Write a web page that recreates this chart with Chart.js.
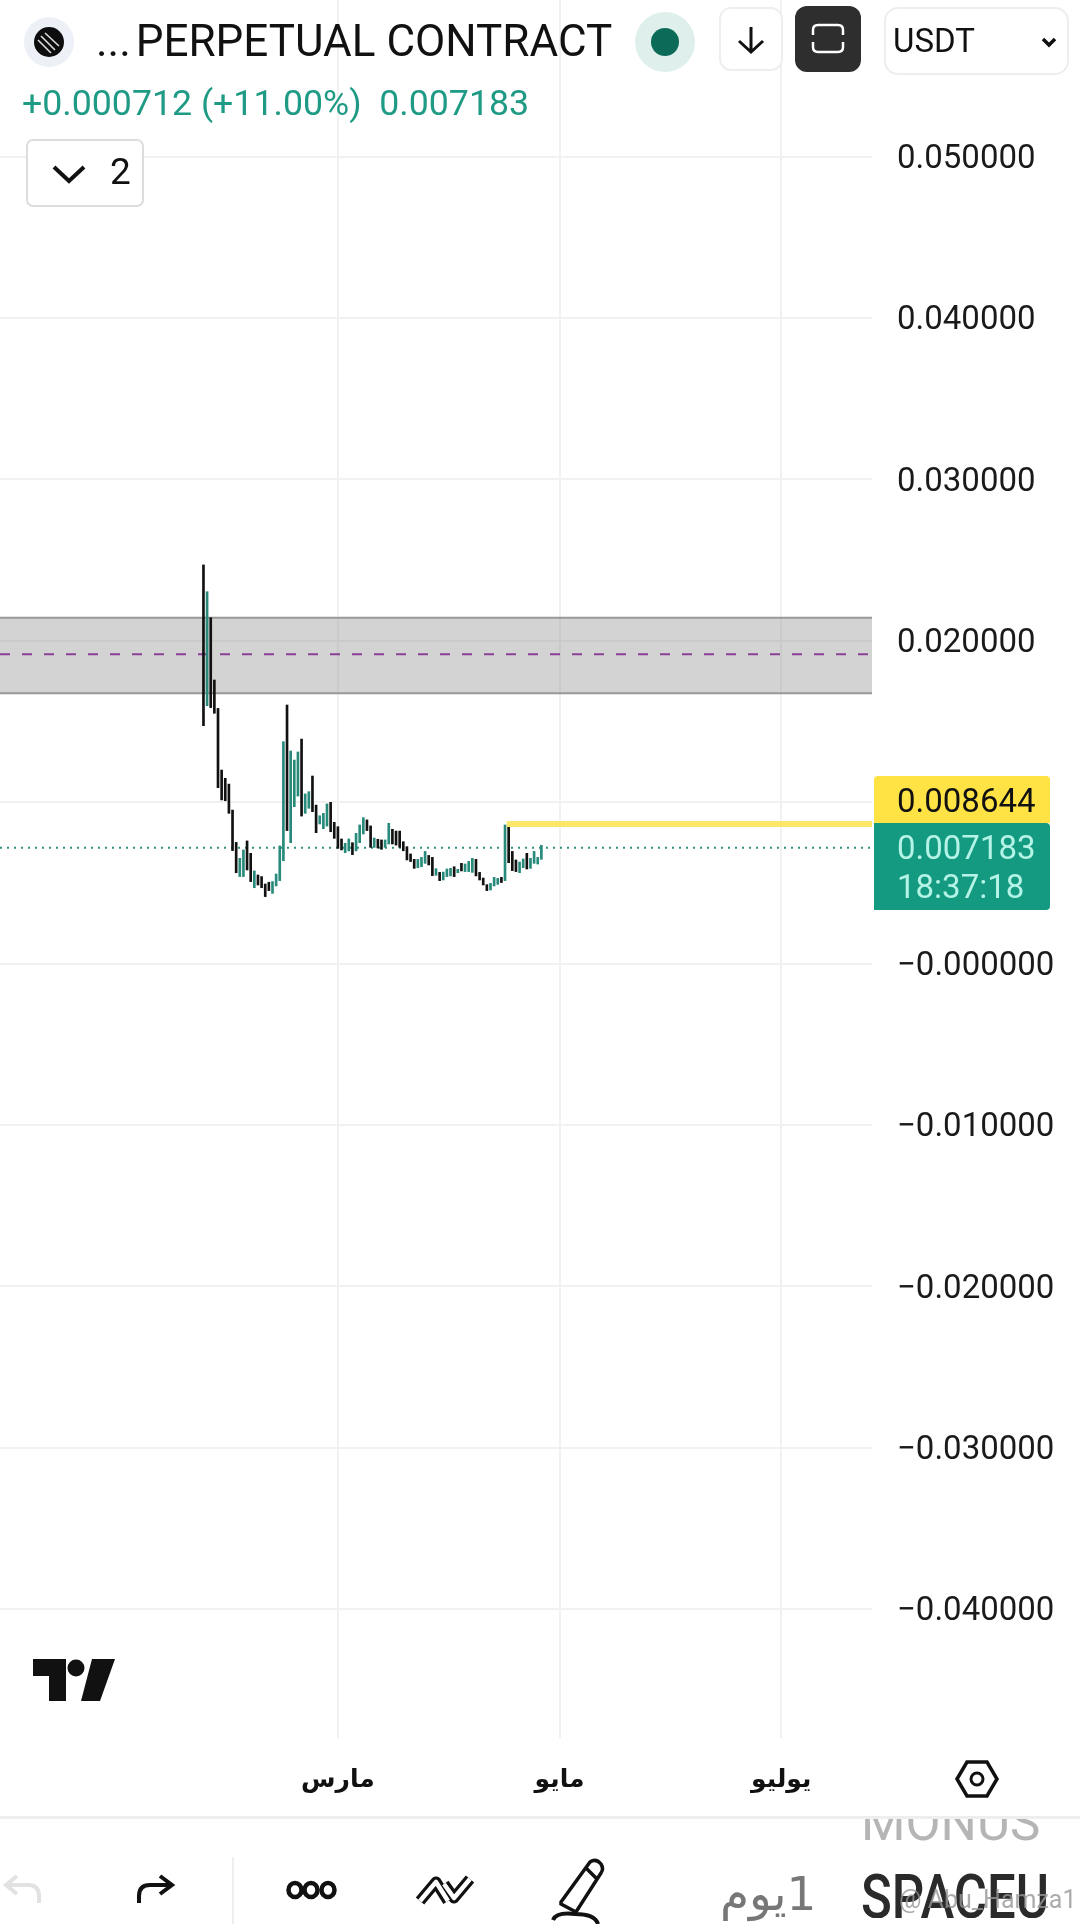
<!DOCTYPE html>
<html>
<head>
<meta charset="utf-8">
<script src="https://cdn.jsdelivr.net/npm/chart.js@4"></script>
<style>
    html, body { margin: 0; padding: 0; background: #fff; width: 1080px; height: 1924px; overflow: hidden; font-family: Roboto, sans-serif; }
    #chartBox { position: absolute; left: 0; top: 0; width: 1080px; height: 1818px; }
    .txt { position: absolute; white-space: pre; line-height: 1; }
    .box { position: absolute; box-sizing: border-box; }
    svg { position: absolute; left: 0; top: 0; }
</style>
</head>
<body>
<div id="chartBox"><canvas id="myChart" width="1080" height="1818"></canvas></div>

<!-- header boxes -->
<div class="box" style="left:26px;top:139px;width:118px;height:68px;border:2px solid #ddd;border-radius:7px;background:#fff"></div>
<div class="box" style="left:719px;top:7px;width:64px;height:64px;border:2px solid #eee;border-radius:12px;background:#fff"></div>
<div class="box" style="left:795px;top:6px;width:66px;height:66px;background:#2e2e2e;border-radius:12px"></div>
<div class="box" style="left:884px;top:7px;width:185px;height:68px;border:2px solid #eee;border-radius:14px;background:#fff"></div>

<svg width="1080" height="1924" viewBox="0 0 1080 1924">
    <!-- logo -->
    <circle cx="49" cy="42" r="25" fill="#eef0f8"/>
    <circle cx="49" cy="42" r="15" fill="#0d0d0d"/>
    <path d="M41 36 L55 50 M45 33 L59 46 M38 40 L51 53" stroke="#ddd" stroke-width="1.6" fill="none"/>
    <!-- status dot -->
    <circle cx="665" cy="42" r="30" fill="#dff0ec"/>
    <circle cx="665" cy="42" r="14" fill="#0b6b58"/>
    <!-- header icons -->
    <path d="M54 167 L69 181 L84 167" fill="none" stroke="#111" stroke-width="4"/>
    <path d="M751 27 V52 M739 41 L751 52 L763 41" fill="none" stroke="#111" stroke-width="3"/>
    <path d="M813 35 V30 Q813 25 818 25 H838 Q843 25 843 30 V35 M813 42 V47 Q813 52 818 52 H838 Q843 52 843 47 V42" fill="none" stroke="#fff" stroke-width="2.5"/>
    <path d="M1043 39 L1049 45 L1055 39" fill="none" stroke="#111" stroke-width="3.5"/>
    <!-- tv logo -->
    <path d="M33 1659 h33 v42 h-17 v-25 h-16 z M92 1659 h23 l-15 42 h-19 z" fill="#111"/>
    <circle cx="76" cy="1668" r="8.5" fill="#111"/>
    <!-- settings -->
    <path d="M957 1779 L967 1762 H987 L997 1779 L987 1796 H967 Z" fill="none" stroke="#111" stroke-width="3.5"/>
    <circle cx="977" cy="1779" r="6" fill="none" stroke="#111" stroke-width="3"/>
    <!-- toolbar -->
    <rect x="232" y="1857" width="2" height="67" fill="#eee"/>
    <path d="M39 1903 v-7 q0 -11 -11 -11 h-20 m9 -9 l-11 9 l11 9" fill="none" stroke="#e2e2e2" stroke-width="4"/>
    <path d="M139 1903 v-7 q0 -11 11 -11 h20 m-10 -9 l12 9 l-12 9" fill="none" stroke="#111" stroke-width="4"/>
    <ellipse cx="295" cy="1890" rx="6.5" ry="7" fill="none" stroke="#111" stroke-width="4.5"/>
    <ellipse cx="311" cy="1890" rx="6.5" ry="7" fill="none" stroke="#111" stroke-width="4.5"/>
    <ellipse cx="328" cy="1890" rx="6.5" ry="7" fill="none" stroke="#111" stroke-width="4.5"/>
    <path d="M420 1901 L436 1882 L448 1901 M444 1884 L454 1898 L470 1879" fill="none" stroke="#111" stroke-width="11" stroke-linejoin="round"/>
    <path d="M420 1901 L436 1882 L448 1901 M444 1884 L454 1898 L470 1879" fill="none" stroke="#fff" stroke-width="4.5" stroke-linejoin="round"/>
    <path d="M561 1902 L590 1862 Q596 1858 601 1864 Q604 1869 601 1873 L576 1912 L561 1904 Z M586 1868 L598 1880" fill="none" stroke="#111" stroke-width="3.5"/>
    <path d="M553 1920 Q556 1912 575 1914 Q595 1914 598 1924" fill="none" stroke="#111" stroke-width="4"/>
</svg>

<!-- header text -->
<div class="txt" style="left:96px;top:19px;font-size:44px;color:#111">...<span style="margin-left:-6px"> PERPETUAL CONTRACT</span></div>
<div class="txt" id="changeTxt" style="left:22px;top:86px;font-size:35.7px;color:#1f9b85"></div>
<div class="txt" style="left:110px;top:153px;font-size:37px;color:#111">2</div>
<div class="txt" style="left:893px;top:24px;font-size:33px;color:#111">USDT</div>

<!-- price labels -->
<div class="box" style="left:874px;top:776px;width:176px;height:47px;background:#ffe344;border-radius:4px 4px 0 0"></div>
<div class="box" style="left:874px;top:823px;width:176px;height:87px;background:#139a80;border-radius:0 4px 4px 0"></div>
<div class="txt" id="alertPrice" style="left:897px;top:784px;font-size:33px;color:#111"></div>
<div class="txt" id="lastPrice" style="left:897px;top:831px;font-size:33px;color:#b4f3e6"></div>
<div class="txt" id="countdown" style="left:897px;top:870px;font-size:33px;color:#b4f3e6"></div>

<!-- bottom -->
<div class="box" style="left:0;top:1816px;width:1080px;height:3px;background:#eee"></div>
<div class="txt" dir="rtl" style="left:720px;top:1870px;font-size:47px;color:#777;font-family:'DejaVu Sans'">1يوم</div>
<div class="box" style="left:850px;top:1819px;width:230px;height:30px;overflow:hidden">
    <div class="txt" style="left:11px;top:-22px;font-size:51px;color:#b5b5b5">MONUS</div>
</div>
<div class="box" style="left:850px;top:1860px;width:230px;height:58px;overflow:hidden">
    <div class="txt" style="left:11px;top:6px;font-size:62px;color:#2a2a2a;font-weight:500;transform:scaleX(.82);transform-origin:left top">SPACEU</div>
</div>
<div class="txt" style="left:899px;top:1887px;font-size:25px;color:rgba(150,150,150,.8)">@ Abu_Hamza1</div>

<script>
const lastPriceValue = 0.007183;
const alertValue = 0.008644;
const bandTop = 0.02143;
const bandBottom = 0.01675;
const dashedValue = 0.01916;

const yTickValues = [0.05, 0.04, 0.03, 0.02, 0, -0.01, -0.02, -0.03, -0.04];
const yTickLabels = ['0.050000', '0.040000', '0.030000', '0.020000', '\u22120.000000', '\u22120.010000', '\u22120.020000', '\u22120.030000', '\u22120.040000'];
const yGridValues = [0.05, 0.04, 0.03, 0.02, 0.01, 0, -0.01, -0.02, -0.03, -0.04];

// dias contados a partir do inicio do grafico
const monthDays = [93, 154, 215];
const monthLabels = ['مارس', 'مايو', 'يوليو'];
const firstBarDay = 56;
const lastDay = 240;
const alertStartDay = 139.5;

const highs = [
    .02470, .02304, .02143, .01757, .01581, .01199, .01148, .01112, .00951, .00751,
    .00652, .00704, .00760, .00683, .00574, .00549, .00539, .00493, .00504, .00508,
    .00555, .00729, .01375, .01602, .01317, .01261, .01311, .01391, .01051, .01065,
    .01162, .00982, .00916, .00931, .00989, .00999, .00875, .00848, .00772, .00745,
    .00772, .00749, .00807, .00859, .00904, .00890, .00853, .00778, .00770, .00766,
    .00766, .00869, .00832, .00821, .00821, .00755, .00724, .00679, .00646, .00646,
    .00658, .00695, .00670, .00658, .00588, .00565, .00567, .00586, .00590, .00600,
    .00584, .00621, .00617, .00633, .00652, .00646, .00565, .00530, .00489, .00497,
    .00534, .00528, .00534, .00859, .00865, .00695, .00642, .00629, .00648, .00683,
    .00652, .00695, .00658, .00733
];
const lows = [
    .01474, .01598, .01586, .01551, .01090, .01014, .01009, .00931, .00700, .00563,
    .00539, .00539, .00580, .00508, .00470, .00487, .00470, .00415, .00452, .00435,
    .00481, .00514, .00637, .00824, .00749, .00972, .01038, .00914, .00931, .00962,
    .00941, .00811, .00865, .00836, .00852, .00817, .00776, .00714, .00704, .00687,
    .00698, .00675, .00698, .00749, .00803, .00824, .00720, .00720, .00716, .00708,
    .00720, .00741, .00741, .00734, .00720, .00699, .00642, .00632, .00590, .00594,
    .00600, .00621, .00611, .00545, .00547, .00514, .00518, .00539, .00543, .00539,
    .00563, .00574, .00570, .00570, .00565, .00543, .00518, .00487, .00452, .00456,
    .00481, .00491, .00502, .00514, .00625, .00576, .00570, .00563, .00594, .00586,
    .00590, .00621, .00617, .00646
];
// 1 = alta (verde), 0 = baixa (preto)
const ups = [
    0, 1, 0, 0, 0, 0, 0, 0, 0, 0,
    1, 1, 0, 0, 1, 0, 0, 0, 0, 1,
    1, 1, 1, 0, 1, 1, 1, 0, 1, 1,
    0, 0, 1, 1, 1, 0, 0, 0, 0, 1,
    1, 0, 1, 1, 1, 0, 0, 1, 0, 0,
    1, 1, 0, 0, 0, 0, 0, 0, 0, 1,
    1, 1, 0, 0, 1, 0, 1, 1, 1, 0,
    1, 0, 1, 1, 1, 0, 0, 0, 0, 1,
    1, 1, 0, 1, 0, 0, 0, 1, 1, 0,
    1, 1, 1, 1
];

const corAlta = '#278a7a';
const corBaixa = '#111111';

document.getElementById('changeTxt').textContent = '+0.000712 (+11.00%)  ' + lastPriceValue.toFixed(6);
document.getElementById('alertPrice').textContent = alertValue.toFixed(6);
document.getElementById('lastPrice').textContent = lastPriceValue.toFixed(6);
document.getElementById('countdown').textContent = '18:37:18';

function linhaH(valor, inicio) {
    return [{ x: inicio, y: valor }, { x: lastDay, y: valor }];
}

const config = {
    type: 'bar',
    data: {
        datasets: [
            {
                type: 'bar',
                data: highs.map((h, i) => ({ x: firstBarDay + i, y: [lows[i], h] })),
                backgroundColor: ups.map(u => u ? corAlta : corBaixa),
                barThickness: 2,
                order: 2
            },
            {
                type: 'line',
                data: linhaH(bandTop, 0),
                borderColor: '#999999',
                borderWidth: 2,
                pointRadius: 0,
                fill: '+1',
                backgroundColor: 'rgba(140,140,140,0.38)',
                order: 6
            },
            {
                type: 'line',
                data: linhaH(bandBottom, 0),
                borderColor: '#999999',
                borderWidth: 2,
                pointRadius: 0,
                order: 5
            },
            {
                type: 'line',
                data: linhaH(dashedValue, 0),
                borderColor: '#8b3f96',
                borderWidth: 2,
                borderDash: [10, 12],
                pointRadius: 0,
                order: 4
            },
            {
                type: 'line',
                data: linhaH(lastPriceValue, 0),
                borderColor: '#2f8f7f',
                borderWidth: 2,
                borderDash: [2, 5],
                pointRadius: 0,
                order: 3
            },
            {
                type: 'line',
                data: linhaH(alertValue, alertStartDay),
                borderColor: '#fbe76a',
                borderWidth: 6,
                pointRadius: 0,
                order: 1
            }
        ]
    },
    options: {
        responsive: false,
        animation: false,
        devicePixelRatio: 1,
        layout: { padding: 0 },
        plugins: { legend: { display: false }, tooltip: { enabled: false }, title: { display: false } },
        scales: {
            x: {
                type: 'linear',
                offset: false,
                min: 0,
                max: lastDay,
                afterBuildTicks: scale => { scale.ticks = monthDays.map(d => ({ value: d })); },
                afterFit: scale => { scale.height = 80; scale.paddingLeft = 0; scale.paddingRight = 0; },
                grid: { offset: false, color: '#f1f1f1', lineWidth: 2, drawTicks: false },
                border: { display: false },
                ticks: {
                    maxRotation: 0,
                    autoSkip: false,
                    padding: 27,
                    color: '#111',
                    font: { family: "'DejaVu Sans'", size: 25, weight: 'bold' },
                    callback: value => monthLabels[monthDays.indexOf(value)]
                }
            },
            y: {
                position: 'right',
                min: -0.04798,
                max: 0.0597,
                afterBuildTicks: scale => { scale.ticks = yGridValues.map(v => ({ value: v })); },
                afterFit: scale => { scale.width = 208; scale.paddingTop = 0; scale.paddingBottom = 0; },
                grid: { color: '#f1f1f1', lineWidth: 2, drawTicks: false },
                border: { display: false },
                ticks: {
                    crossAlign: 'near',
                    padding: 25,
                    labelOffset: 3,
                    color: '#1a1a1a',
                    font: { family: 'Roboto', size: 33 },
                    callback: value => {
                        const i = yTickValues.indexOf(value);
                        return i >= 0 ? yTickLabels[i] : '';
                    }
                }
            }
        }
    }
};

const ctx = document.getElementById('myChart').getContext('2d');
new Chart(ctx, config);
</script>
</body>
</html>
